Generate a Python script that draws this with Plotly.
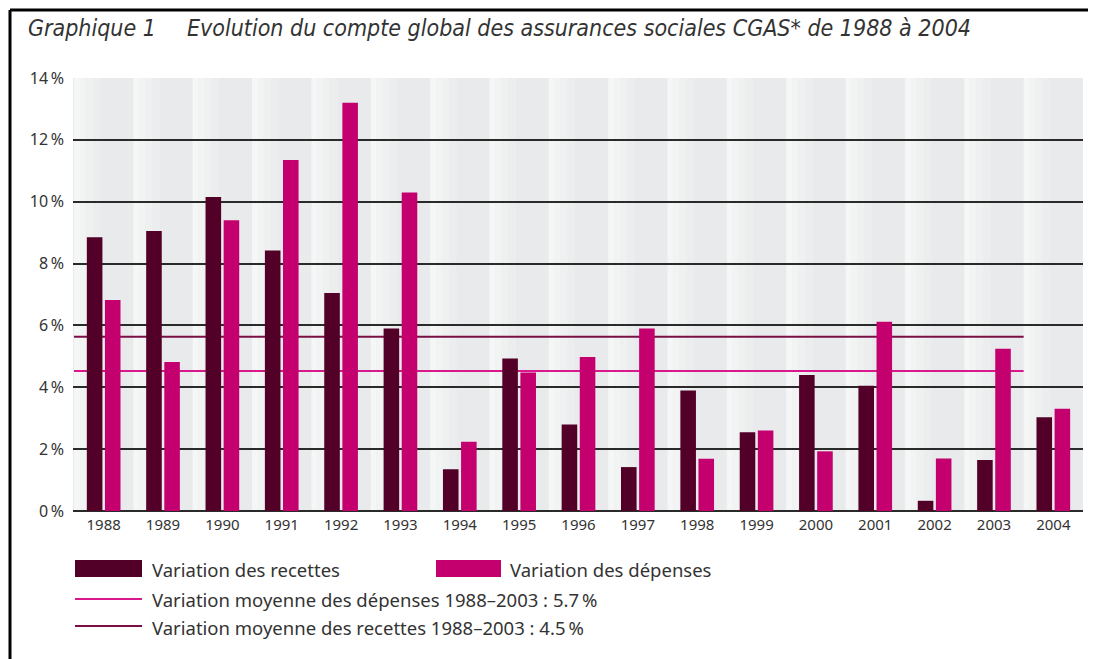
import plotly.graph_objects as go

years = ["1988", "1989", "1990", "1991", "1992", "1993", "1994", "1995", "1996",
         "1997", "1998", "1999", "2000", "2001", "2002", "2003", "2004"]
recettes = [8.85, 9.05, 10.15, 8.42, 7.05, 5.9, 1.35, 4.93, 2.8, 1.42, 3.9,
            2.55, 4.4, 4.05, 0.33, 1.65, 3.03]
depenses = [6.82, 4.82, 9.4, 11.35, 13.2, 10.3, 2.24, 4.48, 4.98, 5.9, 1.69,
            2.6, 1.93, 6.12, 1.7, 5.25, 3.31]
avg_upper = 5.63   # line drawn in dark colour
avg_lower = 4.53   # line drawn in magenta
avg_span = ["1988", "2003"]
y_ticks = [0, 2, 4, 6, 8, 10, 12, 14]
y_tick_text = ["0\u202f%", "2\u202f%", "4\u202f%", "6\u202f%", "8\u202f%", "10\u202f%", "12\u202f%", "14\u202f%"]

title_text = "Graphique 1\u2003\u2002Evolution du compte global des assurances sociales CGAS* de 1988 à 2004"
leg_rec = "Variation des recettes"
leg_dep = "Variation des dépenses"
leg_avg_dep = "Variation moyenne des dépenses 1988–2003 : 5.7\u202f%"
leg_avg_rec = "Variation moyenne des recettes 1988–2003 : 4.5\u202f%"

DARK = "#520028"
MAG = "#c4006e"
DARK_LINE = "#7a0f45"
MAG_LINE = "#d8188c"
TXT = "#333333"
FONT = "Noto Sans"
TFONT = "DejaVu Sans Condensed"

# page offset (body margin of the html page)
OX, OY = 8, 8
W, H = 1096 - OX, 659 - OY
# plot area in screen pixels
L, R, T, B = 73, 1083, 78, 511


def px(x):
    return (x - L) / (R - L)


def py(y):
    return (B - y) / (B - T)


fig = go.Figure()
fig.add_trace(go.Bar(x=years, y=recettes, name=leg_rec, marker=dict(color=DARK, line=dict(width=0))))
fig.add_trace(go.Bar(x=years, y=depenses, name=leg_dep, marker=dict(color=MAG, line=dict(width=0))))

shapes = []
steps = [(0.0, 0.1, "#f5f6f6"), (0.1, 0.2, "#f2f3f3"), (0.2, 0.32, "#eff0f0"),
         (0.32, 0.45, "#ecedee"), (0.45, 1.0, "#e9eaec")]
for i in range(len(years)):
    for a, b, c in steps:
        shapes.append(dict(type="rect", xref="x", yref="paper", x0=i - 0.5 + a, x1=i - 0.5 + b,
                           y0=0, y1=1, fillcolor=c, line=dict(width=0), layer="below"))

i0 = years.index(avg_span[0]) - 0.5
i1 = years.index(avg_span[1]) + 0.5
shapes.append(dict(type="line", xref="x", yref="y", x0=i0, x1=i1, y0=avg_upper, y1=avg_upper,
                   line=dict(color=DARK_LINE, width=2), layer="between"))
shapes.append(dict(type="line", xref="x", yref="y", x0=i0, x1=i1, y0=avg_lower, y1=avg_lower,
                   line=dict(color=MAG_LINE, width=2), layer="between"))

# frame
shapes.append(dict(type="line", xref="paper", yref="paper", x0=px(10), x1=px(1100), y0=py(10), y1=py(10),
                   line=dict(color="black", width=3)))
shapes.append(dict(type="line", xref="paper", yref="paper", x0=px(10), x1=px(10), y0=py(10), y1=py(665),
                   line=dict(color="black", width=3)))

# legend swatches
shapes.append(dict(type="rect", xref="paper", yref="paper", x0=px(75), x1=px(142), y0=py(577), y1=py(560),
                   fillcolor=DARK, line=dict(width=0)))
shapes.append(dict(type="rect", xref="paper", yref="paper", x0=px(436), x1=px(501), y0=py(577), y1=py(560),
                   fillcolor=MAG, line=dict(width=0)))
shapes.append(dict(type="line", xref="paper", yref="paper", x0=px(75), x1=px(142), y0=py(599), y1=py(599),
                   line=dict(color=MAG_LINE, width=2)))
shapes.append(dict(type="line", xref="paper", yref="paper", x0=px(75), x1=px(142), y0=py(626), y1=py(626),
                   line=dict(color=DARK_LINE, width=2)))

LSIZE = 18.5
annotations = [
    dict(text=title_text, xref="paper", yref="paper", x=px(26), y=py(28), xanchor="left", yanchor="middle",
         showarrow=False, font=dict(family=TFONT, size=23, color=TXT, style="italic")),
    dict(text=leg_rec, xref="paper", yref="paper", x=px(150), y=py(569), xanchor="left", yanchor="middle",
         showarrow=False, font=dict(family=FONT, size=LSIZE, color=TXT)),
    dict(text=leg_dep, xref="paper", yref="paper", x=px(508), y=py(569), xanchor="left", yanchor="middle",
         showarrow=False, font=dict(family=FONT, size=LSIZE, color=TXT)),
    dict(text=leg_avg_dep, xref="paper", yref="paper", x=px(150), y=py(599), xanchor="left", yanchor="middle",
         showarrow=False, font=dict(family=FONT, size=LSIZE, color=TXT)),
    dict(text=leg_avg_rec, xref="paper", yref="paper", x=px(150), y=py(627), xanchor="left", yanchor="middle",
         showarrow=False, font=dict(family=FONT, size=LSIZE, color=TXT)),
]

fig.update_layout(
    width=W, height=H,
    margin=dict(l=L - OX, r=1096 - R, t=T - OY, b=659 - B, pad=0),
    paper_bgcolor="white", plot_bgcolor="#e9eaec",
    barmode="group", bargap=0.39, bargroupgap=0.14,
    showlegend=False,
    shapes=shapes, annotations=annotations,
    font=dict(family=FONT, color=TXT),
)
fig.update_xaxes(type="category", showgrid=False, ticks="", showline=False, zeroline=False,
                 tickfont=dict(family=FONT, size=15, color=TXT), ticklabelstandoff=3)
fig.update_yaxes(range=[0, 14], tickvals=y_ticks, ticktext=y_tick_text, showgrid=True,
                 gridcolor="#2a2a2a", gridwidth=2, zeroline=True, zerolinecolor="#2a2a2a", zerolinewidth=2,
                 showline=False, ticks="", tickfont=dict(family=FONT, size=16, color=TXT), ticklabelstandoff=8)

fig.write_html("out.html")
